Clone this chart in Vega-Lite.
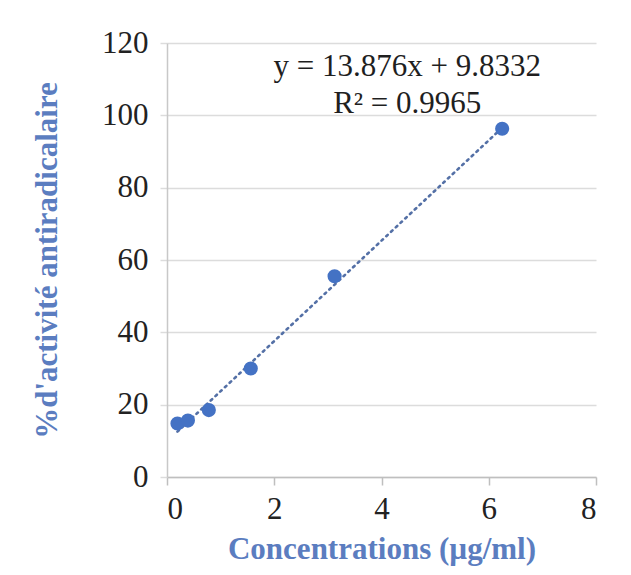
{
  "$schema": "https://vega.github.io/schema/vega-lite/v6.json",
  "width": 429,
  "height": 434,
  "autosize": {"type": "none"},
  "padding": {"left": 167, "top": 43, "right": 35, "bottom": 98},
  "background": "white",
  "config": {"view": {"stroke": null}, "font": "Liberation Serif"},
  "datasets": {
    "points": [
      {"conc": 0.195, "activite": 14.8},
      {"conc": 0.39, "activite": 15.6},
      {"conc": 0.78, "activite": 18.5},
      {"conc": 1.5625, "activite": 30.0},
      {"conc": 3.125, "activite": 55.5},
      {"conc": 6.25, "activite": 96.3}
    ],
    "trend": [
      {"conc": 0.195, "activite": 12.54},
      {"conc": 6.25, "activite": 96.56}
    ],
    "labels": [
      {"conc": 4.48, "activite": 113.4, "texte": "y = 13.876x + 9.8332"},
      {"conc": 4.48, "activite": 103.2, "texte": "R² = 0.9965"}
    ]
  },
  "layer": [
    {
      "data": {"name": "trend"},
      "mark": {"type": "line", "strokeDash": [2, 4.5], "strokeWidth": 2.6, "strokeCap": "round", "color": "#5470a6"},
      "encoding": {
        "x": {
          "field": "conc",
          "type": "quantitative",
          "scale": {"domain": [0, 8], "nice": false},
          "axis": {
            "values": [0, 2, 4, 6, 8],
            "grid": false,
            "domainColor": "#bfbfbf",
            "domainWidth": 1.5,
            "tickColor": "#bfbfbf",
            "tickWidth": 1.5,
            "tickSize": 8,
            "labelFontSize": 31,
            "labelColor": "#222222",
            "labelPadding": 9,
            "title": "Concentrations (µg/ml)",
            "titleFontSize": 31,
            "titleFontWeight": "bold",
            "titleColor": "#5b7dc0",
            "titlePadding": 10
          }
        },
        "y": {
          "field": "activite",
          "type": "quantitative",
          "scale": {"domain": [0, 120], "nice": false},
          "axis": {
            "values": [0, 20, 40, 60, 80, 100, 120],
            "grid": true,
            "gridColor": "#dcdcdc",
            "gridWidth": 1.5,
            "domainColor": "#c8c8c8",
            "domainWidth": 1.5,
            "tickColor": "#dcdcdc",
            "tickWidth": 1.5,
            "tickSize": 7,
            "labelFontSize": 31,
            "labelColor": "#222222",
            "labelPadding": 12,
            "title": "%d'activité antiradicalaire",
            "titleFontSize": 31,
            "titleFontWeight": "bold",
            "titleColor": "#5b7dc0",
            "titlePadding": 38
          }
        }
      }
    },
    {
      "data": {"name": "points"},
      "mark": {"type": "point", "filled": true, "size": 200, "color": "#4472c4", "opacity": 1},
      "encoding": {
        "x": {"field": "conc", "type": "quantitative"},
        "y": {"field": "activite", "type": "quantitative"}
      }
    },
    {
      "data": {"name": "labels"},
      "mark": {"type": "text", "fontSize": 31, "color": "#1f1f1f", "align": "center", "baseline": "middle"},
      "encoding": {
        "x": {"field": "conc", "type": "quantitative"},
        "y": {"field": "activite", "type": "quantitative"},
        "text": {"field": "texte"}
      }
    }
  ]
}
